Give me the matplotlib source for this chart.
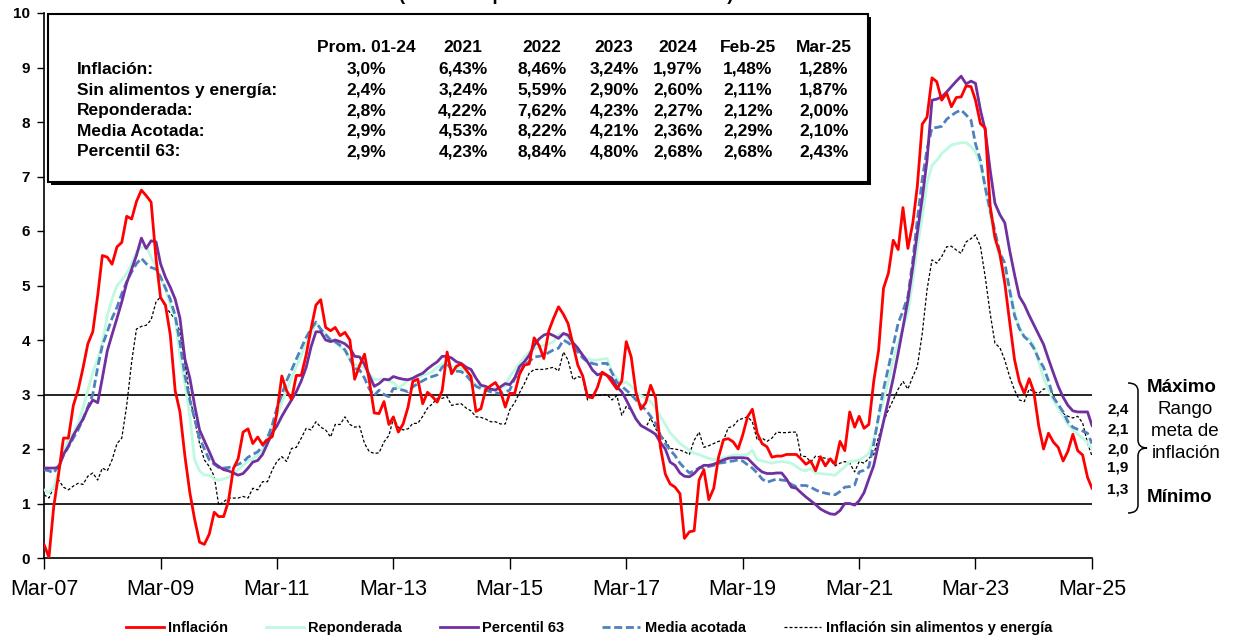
import numpy as np
import pandas as pd
import matplotlib
matplotlib.use("Agg")
import matplotlib.pyplot as plt
import matplotlib.dates as mdates
from matplotlib.path import Path
from matplotlib.patches import PathPatch, Rectangle
from matplotlib.lines import Line2D

plt.rcParams['font.family'] = ['Liberation Sans', 'DejaVu Sans']

# monthly values, Mar-07 .. Mar-25 (one row per calendar year)
inflacion = [
    0.25, 0.01, 0.94, 1.55, 2.20, 2.20, 2.80, 3.08, 3.49, 3.93,
    4.15, 4.82, 5.55, 5.52, 5.39, 5.71, 5.79, 6.27, 6.22, 6.54, 6.75, 6.65,
    6.53, 5.49, 4.78, 4.64, 4.10, 3.07, 2.68, 1.87, 1.20, 0.71, 0.29, 0.25,
    0.44, 0.84, 0.76, 0.76, 1.04, 1.64, 1.82, 2.31, 2.37, 2.10, 2.22, 2.08,
    2.17, 2.23, 2.66, 3.34, 3.07, 2.91, 3.35, 3.35, 3.73, 4.20, 4.64, 4.74,
    4.23, 4.17, 4.23, 4.08, 4.14, 4.00, 3.28, 3.53, 3.74, 3.25, 2.66, 2.65,
    2.87, 2.45, 2.59, 2.31, 2.46, 2.77, 3.24, 3.28, 2.83, 3.04, 2.96, 2.86,
    3.07, 3.78, 3.38, 3.52, 3.56, 3.45, 3.33, 2.69, 2.74, 3.09, 3.16, 3.22,
    3.07, 2.77, 3.02, 3.02, 3.37, 3.54, 3.56, 4.04, 3.90, 3.66, 4.17, 4.40,
    4.61, 4.47, 4.30, 3.91, 3.54, 3.34, 2.96, 2.94, 3.13, 3.41, 3.35, 3.23,
    3.10, 3.25, 3.97, 3.69, 3.04, 2.73, 2.85, 3.17, 2.94, 2.04, 1.54, 1.36,
    1.30, 1.18, 0.36, 0.48, 0.50, 1.43, 1.62, 1.07, 1.28, 1.85, 2.17, 2.19,
    2.13, 2.00, 2.25, 2.59, 2.73, 2.29, 2.10, 2.04, 1.85, 1.87, 1.87, 1.90,
    1.90, 1.90, 1.82, 1.72, 1.78, 1.60, 1.86, 1.69, 1.82, 1.72, 2.14, 1.97,
    2.68, 2.40, 2.60, 2.38, 2.45, 3.25, 3.81, 4.95, 5.23, 5.83, 5.66, 6.43,
    5.68, 6.15, 6.82, 7.96, 8.09, 8.81, 8.74, 8.40, 8.53, 8.28, 8.45, 8.46,
    8.66, 8.65, 8.40, 7.97, 7.89, 6.46, 5.88, 5.58, 5.04, 4.34, 3.64, 3.24,
    3.02, 3.29, 3.05, 2.42, 2.00, 2.29, 2.13, 2.03, 1.78, 1.96, 2.27, 1.97,
    1.89, 1.48, 1.28]

reponderada = [
    1.25, 1.20, 1.30, 1.60, 1.95, 2.17, 2.30, 2.47, 2.75, 3.08,
    3.40, 3.65, 3.94, 4.45, 4.75, 5.00, 5.10, 5.22, 5.40, 5.62, 5.70, 5.72,
    5.52, 5.35, 5.15, 4.95, 4.65, 4.40, 3.70, 3.20, 2.60, 1.80, 1.60, 1.52,
    1.52, 1.45, 1.43, 1.45, 1.48, 1.55, 1.62, 1.70, 1.78, 1.82, 1.89, 2.00,
    2.22, 2.40, 2.60, 2.85, 3.08, 3.30, 3.51, 3.72, 3.94, 4.10, 4.31, 4.20,
    4.10, 4.00, 3.95, 3.88, 3.80, 3.65, 3.55, 3.52, 3.50, 3.38, 3.27, 3.28,
    3.28, 3.25, 3.22, 3.12, 3.18, 3.27, 3.28, 3.30, 3.35, 3.38, 3.42, 3.50,
    3.55, 3.62, 3.51, 3.50, 3.48, 3.42, 3.25, 3.18, 3.15, 3.10, 3.08, 3.12,
    3.12, 3.15, 3.33, 3.45, 3.57, 3.68, 3.78, 3.83, 3.88, 3.90, 3.93, 3.97,
    4.10, 4.12, 4.05, 3.90, 3.80, 3.72, 3.66, 3.63, 3.63, 3.65, 3.66, 3.42,
    3.30, 3.20, 3.23, 3.15, 3.05, 2.98, 2.93, 2.87, 2.75, 2.60, 2.45, 2.30,
    2.20, 2.10, 2.04, 1.98, 1.92, 1.90, 1.86, 1.83, 1.80, 1.82, 1.84, 1.86,
    1.89, 1.89, 1.89, 1.90, 1.98, 1.80, 1.78, 1.76, 1.74, 1.76, 1.77, 1.76,
    1.74, 1.68, 1.62, 1.60, 1.64, 1.56, 1.55, 1.54, 1.53, 1.52, 1.60, 1.67,
    1.77, 1.78, 1.80, 1.85, 1.92, 2.20, 2.55, 2.90, 3.25, 3.63, 3.95, 4.22,
    4.50, 5.10, 5.70, 6.25, 6.88, 7.20, 7.30, 7.42, 7.50, 7.58, 7.60, 7.62,
    7.62, 7.55, 7.45, 7.20, 6.80, 6.30, 5.83, 5.50, 5.20, 4.95, 4.50, 4.23,
    4.06, 4.02, 3.90, 3.60, 3.30, 3.10, 2.90, 2.75, 2.60, 2.45, 2.35, 2.27,
    2.20, 2.12, 2.00]

percentil63 = [
    1.65, 1.65, 1.65, 1.66, 1.90, 2.05, 2.25, 2.40, 2.55, 2.75,
    2.90, 2.85, 3.30, 3.80, 4.10, 4.40, 4.70, 5.05, 5.30, 5.55, 5.87, 5.68,
    5.82, 5.80, 5.40, 5.15, 4.97, 4.75, 4.40, 3.65, 3.30, 2.80, 2.35, 2.15,
    1.95, 1.74, 1.68, 1.62, 1.60, 1.56, 1.52, 1.55, 1.65, 1.76, 1.79, 1.90,
    2.10, 2.30, 2.42, 2.60, 2.75, 2.90, 3.05, 3.25, 3.50, 3.87, 4.15, 4.15,
    4.00, 3.97, 4.00, 3.97, 3.93, 3.85, 3.70, 3.69, 3.55, 3.35, 3.15, 3.20,
    3.28, 3.27, 3.33, 3.30, 3.28, 3.27, 3.30, 3.35, 3.39, 3.47, 3.54, 3.60,
    3.70, 3.70, 3.67, 3.60, 3.57, 3.50, 3.46, 3.30, 3.17, 3.15, 3.10, 3.08,
    3.14, 3.20, 3.18, 3.30, 3.51, 3.60, 3.72, 3.90, 4.02, 4.09, 4.12, 4.08,
    4.03, 4.12, 4.09, 3.95, 3.85, 3.72, 3.60, 3.45, 3.36, 3.39, 3.35, 3.30,
    3.14, 3.05, 2.90, 2.72, 2.55, 2.43, 2.38, 2.33, 2.27, 2.12, 2.00, 1.76,
    1.70, 1.56, 1.50, 1.49, 1.55, 1.65, 1.70, 1.70, 1.72, 1.76, 1.80, 1.83,
    1.84, 1.84, 1.84, 1.83, 1.74, 1.65, 1.58, 1.55, 1.55, 1.56, 1.56, 1.45,
    1.30, 1.28, 1.20, 1.12, 1.05, 0.98, 0.90, 0.85, 0.81, 0.80, 0.87, 1.00,
    1.00, 0.97, 1.05, 1.20, 1.45, 1.70, 2.10, 2.50, 2.90, 3.30, 3.76, 4.23,
    4.73, 5.35, 5.96, 6.60, 7.30, 8.40, 8.42, 8.46, 8.55, 8.65, 8.75, 8.84,
    8.70, 8.75, 8.71, 8.22, 7.85, 7.12, 6.51, 6.30, 6.15, 5.65, 5.20, 4.80,
    4.65, 4.45, 4.28, 4.10, 3.92, 3.65, 3.40, 3.15, 2.95, 2.80, 2.70, 2.68,
    2.68, 2.68, 2.43]

media_acotada = [
    1.62, 1.60, 1.56, 1.70, 1.88, 2.04, 2.20, 2.35, 2.55, 2.77,
    3.00, 3.50, 3.90, 4.15, 4.40, 4.60, 4.85, 5.07, 5.25, 5.40, 5.50, 5.40,
    5.33, 5.30, 5.16, 4.95, 4.75, 4.45, 3.95, 3.35, 2.90, 2.55, 2.20, 2.00,
    1.80, 1.72, 1.66, 1.65, 1.66, 1.68, 1.72, 1.76, 1.85, 1.90, 1.95, 2.05,
    2.20, 2.45, 2.75, 3.00, 3.25, 3.45, 3.65, 3.85, 4.05, 4.20, 4.33, 4.20,
    4.10, 4.00, 3.97, 3.90, 3.82, 3.65, 3.48, 3.45, 3.30, 3.10, 2.98, 3.08,
    3.00, 2.96, 3.11, 3.10, 3.08, 3.05, 3.14, 3.20, 3.25, 3.30, 3.33, 3.36,
    3.50, 3.57, 3.45, 3.43, 3.42, 3.35, 3.25, 3.15, 3.11, 3.08, 3.05, 3.03,
    3.02, 3.05, 3.08, 3.30, 3.40, 3.54, 3.60, 3.69, 3.70, 3.72, 3.77, 3.82,
    3.85, 4.00, 3.95, 3.88, 3.78, 3.67, 3.60, 3.57, 3.55, 3.57, 3.57, 3.40,
    3.23, 3.15, 3.08, 3.00, 2.90, 2.80, 2.72, 2.60, 2.47, 2.25, 2.10, 1.98,
    1.88, 1.74, 1.65, 1.56, 1.60, 1.65, 1.66, 1.68, 1.70, 1.74, 1.75, 1.77,
    1.78, 1.80, 1.78, 1.71, 1.65, 1.56, 1.45, 1.39, 1.42, 1.45, 1.43, 1.42,
    1.35, 1.31, 1.33, 1.33, 1.30, 1.25, 1.21, 1.19, 1.17, 1.16, 1.22, 1.30,
    1.31, 1.34, 1.58, 1.61, 1.67, 2.10, 2.60, 3.10, 3.50, 3.90, 4.31, 4.53,
    4.80, 5.47, 6.20, 6.95, 7.50, 7.89, 7.90, 7.92, 8.05, 8.12, 8.18, 8.22,
    8.13, 8.03, 7.60, 7.30, 6.80, 6.38, 6.00, 5.60, 5.41, 4.92, 4.45, 4.21,
    4.06, 3.98, 3.85, 3.65, 3.50, 3.25, 2.95, 2.82, 2.68, 2.50, 2.40, 2.36,
    2.33, 2.29, 2.10]

sin_alim_energia = [
    1.16, 1.10, 1.30, 1.43, 1.30, 1.25, 1.32, 1.37, 1.35, 1.50,
    1.56, 1.43, 1.65, 1.60, 1.80, 2.10, 2.20, 2.80, 3.60, 4.20, 4.25, 4.27,
    4.37, 4.70, 4.79, 4.60, 4.50, 4.37, 4.15, 3.57, 2.96, 2.53, 2.10, 1.80,
    1.68, 1.50, 0.97, 1.03, 1.10, 1.10, 1.10, 1.13, 1.10, 1.28, 1.25, 1.40,
    1.40, 1.62, 1.77, 1.86, 1.77, 2.01, 2.03, 2.20, 2.38, 2.35, 2.50, 2.40,
    2.35, 2.22, 2.45, 2.45, 2.59, 2.45, 2.40, 2.42, 2.10, 1.95, 1.92, 1.93,
    2.13, 2.25, 2.56, 2.40, 2.35, 2.37, 2.47, 2.47, 2.60, 2.75, 2.83, 2.93,
    2.93, 2.96, 2.80, 2.82, 2.83, 2.75, 2.70, 2.59, 2.58, 2.55, 2.50, 2.50,
    2.46, 2.46, 2.72, 2.85, 3.03, 3.20, 3.39, 3.46, 3.46, 3.46, 3.48, 3.50,
    3.43, 3.78, 3.63, 3.27, 3.33, 3.30, 2.90, 2.98, 2.98, 2.99, 3.00, 2.90,
    2.98, 2.62, 2.78, 2.72, 2.55, 2.44, 2.39, 2.57, 2.37, 2.25, 2.16, 2.01,
    2.00, 1.98, 1.95, 1.90, 2.16, 2.31, 2.03, 2.06, 2.10, 2.14, 2.16, 2.39,
    2.42, 2.53, 2.56, 2.59, 2.50, 2.16, 2.20, 2.14, 2.20, 2.31, 2.30, 2.30,
    2.31, 2.31, 1.87, 1.86, 1.76, 1.87, 1.85, 1.83, 1.80, 1.69, 1.74, 1.77,
    1.74, 1.58, 1.77, 1.74, 1.83, 1.90, 2.22, 2.50, 2.72, 2.90, 3.10, 3.24,
    3.10, 3.33, 3.51, 4.12, 4.92, 5.47, 5.41, 5.53, 5.71, 5.72, 5.65, 5.59,
    5.80, 5.86, 5.93, 5.72, 5.16, 4.49, 3.94, 3.86, 3.63, 3.33, 3.08, 2.90,
    2.87, 3.10, 3.05, 3.02, 3.10, 3.11, 3.00, 2.75, 2.65, 2.60, 2.57, 2.60,
    2.48, 2.11, 1.87]

# summary table
col_heads = ["Prom. 01-24", "2021", "2022", "2023", "2024", "Feb-25", "Mar-25"]
row_names = ["Inflación:", "Sin alimentos y energía:", "Reponderada:",
             "Media Acotada:", "Percentil 63:"]
table_vals = [
    ["3,0%", "6,43%", "8,46%", "3,24%", "1,97%", "1,48%", "1,28%"],
    ["2,4%", "3,24%", "5,59%", "2,90%", "2,60%", "2,11%", "1,87%"],
    ["2,8%", "4,22%", "7,62%", "4,23%", "2,27%", "2,12%", "2,00%"],
    ["2,9%", "4,53%", "8,22%", "4,21%", "2,36%", "2,29%", "2,10%"],
    ["2,9%", "4,23%", "8,84%", "4,80%", "2,68%", "2,68%", "2,43%"],
]
end_labels = ["2,4", "2,1", "2,0", "1,9", "1,3"]

dates = pd.date_range("2007-03-01", "2025-03-01", freq="MS")

W, H = 1237, 640
def fx(x):
    return x / W
def fy(y):
    return 1 - y / H

fig = plt.figure(figsize=(W / 100, H / 100), dpi=100)
ax = fig.add_axes([fx(44), fy(558), fx(1092) - fx(44), fy(13) - fy(558)])

ax.axhline(3, color="black", lw=1.2, zorder=1)
ax.axhline(1, color="black", lw=1.2, zorder=1)

ax.plot(dates, sin_alim_energia, color="black", lw=0.9, dashes=(2.4, 1.6),
        label="Inflación sin alimentos y energía", zorder=2)
ax.plot(dates, reponderada, color="#BEF9E0", lw=2.0, label="Reponderada", zorder=3)
ax.plot(dates, media_acotada, color="#4F81BD", lw=2.0, dashes=(2.9, 1.3),
        label="Media acotada", zorder=4)
ax.plot(dates, percentil63, color="#7030A0", lw=2.0, label="Percentil 63", zorder=5)
ax.plot(dates, inflacion, color="#FF0000", lw=2.0, label="Inflación", zorder=6)

ax.set_xlim(dates[0], dates[-1])
ax.set_ylim(0, 10)
ax.set_yticks(range(0, 11))
ax.set_xticks(dates[::24])
ax.xaxis.set_major_formatter(mdates.DateFormatter("%b-%y"))
ax.tick_params(axis="x", labelsize=15.5, length=8, width=1, pad=7)
ax.tick_params(axis="y", labelsize=11, length=5, width=1, pad=5)
for lab in ax.get_yticklabels():
    lab.set_fontweight("bold")
for s in ["top", "right"]:
    ax.spines[s].set_visible(False)
for s in ["left", "bottom"]:
    ax.spines[s].set_linewidth(1.2)

# legend
handles = [
    Line2D([], [], color="#FF0000", lw=2.0),
    Line2D([], [], color="#BEF9E0", lw=2.0),
    Line2D([], [], color="#7030A0", lw=2.0),
    Line2D([], [], color="#4F81BD", lw=2.0, dashes=(2.9, 1.3)),
    Line2D([], [], color="black", lw=0.9, dashes=(2.4, 1.6)),
]
labels = ["Inflación", "Reponderada", "Percentil 63", "Media acotada",
          "Inflación sin alimentos y energía"]
fig.legend(handles, labels, loc="center", bbox_to_anchor=(fx(589), fy(628)),
           ncol=5, frameon=False, prop={"size": 10.5, "weight": "bold"},
           handlelength=2.6, handletextpad=0.3, columnspacing=2.6)

# title, cut off at the top edge as in the original
fig.text(fx(566), fy(-0.5), "(variación porcentual en doce meses)", ha="center",
         va="baseline", fontsize=13.5, fontweight="bold")

# summary box with shadow
fig.add_artist(Rectangle((fx(51), fy(185)), fx(868) - fx(48), fy(14) - fy(182),
                         transform=fig.transFigure, facecolor="black",
                         edgecolor="black", lw=0))
fig.add_artist(Rectangle((fx(48), fy(182)), fx(868) - fx(48), fy(14) - fy(182),
                         transform=fig.transFigure, facecolor="white",
                         edgecolor="black", lw=1.5))
col_x = [366, 463, 542, 614, 678, 748, 824]
row_y = [48, 69, 90, 111, 131, 152]
for cx, head in zip(col_x, col_heads):
    fig.text(fx(cx), fy(row_y[0]), head, ha="center", va="center",
             fontsize=12.5, fontweight="bold")
for ry, name, vals in zip(row_y[1:], row_names, table_vals):
    fig.text(fx(77), fy(ry), name, ha="left", va="center", fontsize=12.5,
             fontweight="bold")
    for cx, v in zip(col_x, vals):
        fig.text(fx(cx), fy(ry), v, ha="center", va="center", fontsize=12.5,
                 fontweight="bold")

# right side annotation
for ly, lab in zip([410, 429, 450, 468, 490], end_labels):
    fig.text(fx(1118), fy(ly), lab, ha="center", va="center", fontsize=11,
             fontweight="bold")
fig.text(fx(1182), fy(387), "Máximo", ha="center", va="center", fontsize=13.5,
         fontweight="bold")
fig.text(fx(1185), fy(410), "Rango", ha="center", va="center", fontsize=13.5)
fig.text(fx(1185), fy(432), "meta de", ha="center", va="center", fontsize=13.5)
fig.text(fx(1186), fy(453), "inflación", ha="center", va="center", fontsize=13.5)
fig.text(fx(1180), fy(497), "Mínimo", ha="center", va="center", fontsize=13.5,
         fontweight="bold")

bx, cx_ = 1138, 1147
pts = [(1128, 383), (bx, 383), (bx, 391), (bx, 440), (bx, 448), (cx_, 448),
       (bx, 448), (bx, 456), (bx, 505), (bx, 513), (1128, 513)]
codes = [Path.MOVETO, Path.CURVE3, Path.CURVE3, Path.LINETO, Path.CURVE3,
         Path.CURVE3, Path.CURVE3, Path.CURVE3, Path.LINETO, Path.CURVE3,
         Path.CURVE3]
brace = Path([(fx(x), fy(y)) for x, y in pts], codes)
fig.add_artist(PathPatch(brace, transform=fig.transFigure, facecolor="none",
                         edgecolor="black", lw=1.1))

fig.savefig("out.png", dpi=100)
